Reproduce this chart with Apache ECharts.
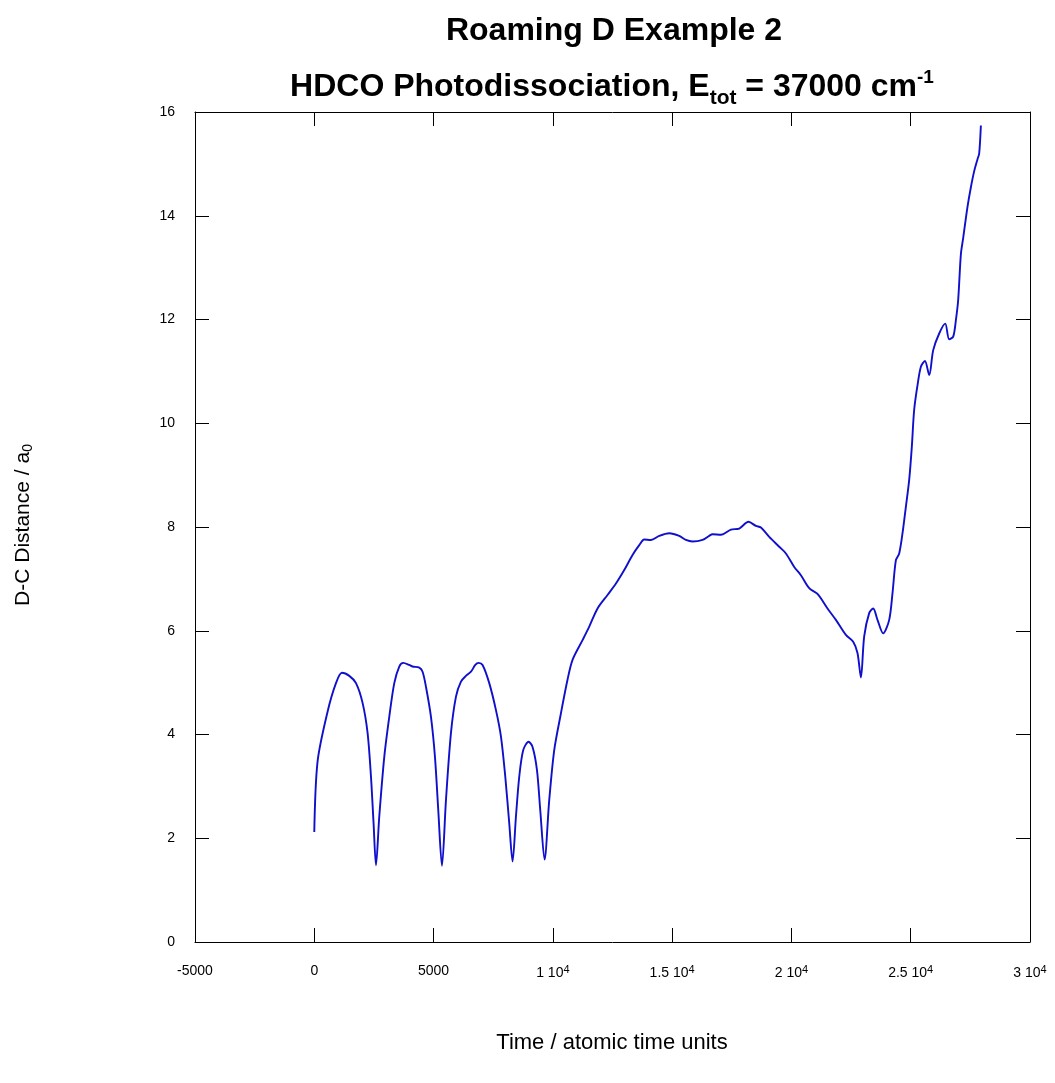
<!DOCTYPE html>
<html>
<head>
<meta charset="utf-8">
<script src="https://cdn.jsdelivr.net/npm/echarts@6/dist/echarts.min.js"></script>
<style>
html,body{margin:0;padding:0;background:#fff;}
#c{width:1055px;height:1083px;}
</style>
</head>
<body>
<div id="c"></div>
<script>
// Time (atomic time units)
var times = [0,138,557,909,1161,1467,1748,2024,2234,2376,2485,2586,2724,2934,3143,3353,3562,3730,3981,4120,4400,4539,4681,4891,5058,5197,5352,5520,5729,5939,6148,6358,6567,6748,6886,7054,7334,7615,7825,8005,8172,8311,8453,8592,8759,8981,9149,9333,9472,9652,9849,10058,10339,10616,10825,11244,11525,11873,12292,12644,12992,13340,13621,13830,14111,14459,14878,15297,15578,15854,16274,16554,16693,17045,17464,17812,18202,18512,18721,19069,19488,19769,20117,20397,20745,21093,21512,21864,22283,22589,22769,22912,23050,23259,23427,23607,23846,24098,24236,24379,24517,24657,24797,24936,25047,25145,25287,25427,25595,25775,25943,26194,26446,26613,26781,26894,26990,27103,27199,27380,27522,27661,27799,27870,27941];
// D-C distance (a0)
var distance = [2.12,3.48,4.44,4.99,5.19,5.13,4.99,4.61,4.03,3.19,2.29,1.48,2.42,3.57,4.34,4.99,5.31,5.38,5.34,5.31,5.29,5.21,4.92,4.34,3.57,2.54,1.47,2.74,4.03,4.73,5.02,5.13,5.21,5.34,5.38,5.34,4.99,4.47,3.96,3.19,2.29,1.55,2.42,3.19,3.70,3.86,3.76,3.32,2.54,1.59,2.74,3.70,4.41,5.06,5.44,5.82,6.08,6.43,6.69,6.91,7.17,7.46,7.65,7.76,7.75,7.83,7.88,7.83,7.75,7.72,7.75,7.83,7.86,7.85,7.95,7.97,8.10,8.02,7.99,7.81,7.62,7.49,7.23,7.07,6.82,6.71,6.43,6.21,5.92,5.79,5.57,5.10,5.89,6.34,6.43,6.21,5.95,6.21,6.72,7.36,7.49,7.88,8.39,8.91,9.55,10.26,10.74,11.09,11.20,10.93,11.41,11.73,11.92,11.62,11.67,11.99,12.38,13.26,13.57,14.17,14.55,14.86,15.09,15.20,15.74];
var xTicks = {min:-5000, max:30000, step:5000};
var yTicks = {min:0, max:16, step:2};
var titleText = 'Roaming D Example 2';
var xName = 'Time / atomic time units';

var chart = echarts.init(document.getElementById('c'), null, {renderer:'canvas'});
var FONT = '"Liberation Sans", Arial, sans-serif';
function xFmt(v){
  if (Math.abs(v) < 10000) return String(v);
  return (v/10000) + ' 10{sup|4}';
}
var baseAxis = {
  type:'value', min:xTicks.min, max:xTicks.max, interval:xTicks.step,
  axisLine:{show:true, onZero:false, lineStyle:{color:'#000', width:1}},
  axisTick:{show:true, inside:true, length:14, lineStyle:{color:'#000', width:1}},
  splitLine:{show:false}
};
var option = {
  animation:false,
  backgroundColor:'#fff',
  grid:{left:195, right:25, top:112, bottom:141, show:false},
  xAxis:[
    Object.assign({}, baseAxis, {position:'bottom',
      axisLabel:{show:true, margin:22, fontSize:14, color:'#000', fontFamily:FONT, formatter:xFmt,
        rich:{sup:{fontSize:11, verticalAlign:'top', padding:[0,0,8,0], fontFamily:FONT, color:'#000'}}}}),
    Object.assign({}, baseAxis, {position:'top', axisLabel:{show:false}})
  ],
  yAxis:[
    {type:'value', position:'left', min:yTicks.min, max:yTicks.max, interval:yTicks.step,
      axisLine:{show:true, onZero:false, lineStyle:{color:'#000', width:1}},
      axisTick:{show:true, inside:true, length:14, lineStyle:{color:'#000'}},
      splitLine:{show:false},
      axisLabel:{margin:20, fontSize:14, color:'#000', fontFamily:FONT}},
    {type:'value', position:'right', min:yTicks.min, max:yTicks.max, interval:yTicks.step,
      axisLine:{show:true, onZero:false, lineStyle:{color:'#000', width:1}},
      axisTick:{show:true, inside:true, length:14, lineStyle:{color:'#000'}},
      splitLine:{show:false}, axisLabel:{show:false}}
  ],
  graphic:[
    {type:'text', x:614, y:31, style:{text:titleText, font:'bold 32px '+FONT, fill:'#000', align:'center', verticalAlign:'middle'}},
    {type:'text', x:612, y:87, style:{
      text:'{b|HDCO Photodissociation, E}{s|tot}{b| = 37000 cm}{p|-1}',
      align:'center', verticalAlign:'middle',
      rich:{
        b:{font:'bold 32px '+FONT, fill:'#000', lineHeight:34},
        s:{font:'bold 21px '+FONT, fill:'#000', padding:[22,0,0,0], lineHeight:34},
        p:{font:'bold 19px '+FONT, fill:'#000', padding:[0,0,18,0], lineHeight:34}
      }}},
    {type:'text', x:612, y:1043, style:{text:xName, font:'22px '+FONT, fill:'#000', align:'center', verticalAlign:'middle'}},
    {type:'text', x:23, y:525, rotation:Math.PI/2, style:{
      text:'{n|D-C Distance / a}{s|0}', align:'center', verticalAlign:'middle',
      rich:{n:{font:'21px '+FONT, fill:'#000'}, s:{font:'14px '+FONT, fill:'#000', padding:[10,0,0,0]}}}}
  ],
  series:[{
    type:'line', xAxisIndex:0, yAxisIndex:0,
    data: times.map(function(t,i){return [t, distance[i]];}),
    showSymbol:false, smooth:0.3,
    lineStyle:{color:'#0f0fcc', width:1.9}
  }]
};
chart.setOption(option);
</script>
</body>
</html>
